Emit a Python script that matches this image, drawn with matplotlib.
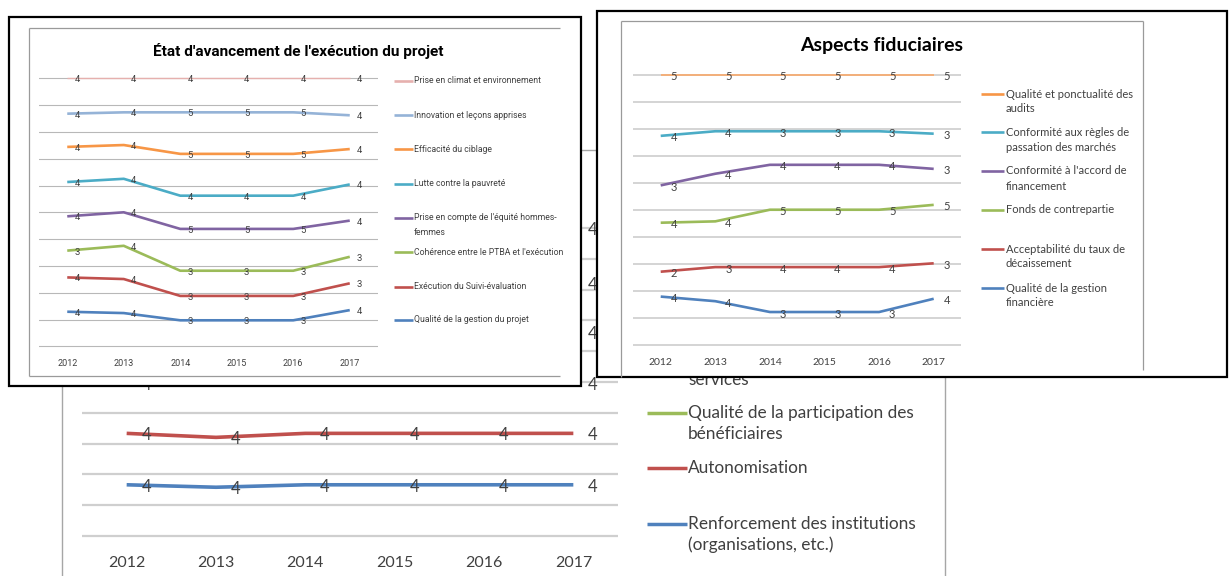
import matplotlib
matplotlib.use("Agg")
import matplotlib.pyplot as plt
from matplotlib import font_manager as fm
from matplotlib.patches import Rectangle
from matplotlib.lines import Line2D

# ---------------------------------------------------------------- data
YEARS = ["2012", "2013", "2014", "2015", "2016", "2017"]

# État d'avancement de l'exécution du projet (stacked panel levels + ratings)
PROJ_NAMES = [
    "Prise en climat et environnement",
    "Innovation et leçons apprises",
    "Efficacité du ciblage",
    "Lutte contre la pauvreté",
    "Prise en compte de l'équité hommes-\nfemmes",
    "Cohérence entre le PTBA et l'exécution",
    "Exécution du Suivi-évaluation",
    "Qualité de la gestion du projet",
]
PROJ_COLORS = ["#E6B0AE", "#95B3D7", "#F79646", "#4BACC6",
               "#8064A2", "#9BBB59", "#C0504D", "#4F81BD"]
PROJ_LEVELS = [
    [10.0, 10.0, 10.0, 10.0, 10.0, 10.0],
    [8.68, 8.73, 8.73, 8.73, 8.73, 8.62],
    [7.44, 7.51, 7.18, 7.18, 7.18, 7.36],
    [6.13, 6.25, 5.62, 5.62, 5.62, 6.04],
    [4.85, 5.00, 4.38, 4.38, 4.38, 4.69],
    [3.57, 3.75, 2.82, 2.82, 2.82, 3.34],
    [2.57, 2.51, 1.88, 1.88, 1.88, 2.35],
    [1.29, 1.24, 0.97, 0.97, 0.97, 1.35],
]
PROJ_RATINGS = [
    [4, 4, 4, 4, 4, 4],
    [4, 4, 5, 5, 5, 4],
    [4, 4, 5, 5, 5, 4],
    [4, 4, 4, 4, 4, 4],
    [4, 4, 5, 5, 5, 4],
    [3, 4, 3, 3, 3, 3],
    [4, 4, 3, 3, 3, 3],
    [4, 4, 3, 3, 3, 4],
]

# Aspects fiduciaires
FIDU_NAMES = [
    "Qualité et ponctualité des\naudits",
    "Conformité aux règles de\npassation des marchés",
    "Conformité à l'accord de\nfinancement",
    "Fonds de contrepartie",
    "Acceptabilité du taux de\ndécaissement",
    "Qualité de la gestion\nfinancière",
]
FIDU_COLORS = ["#F9A96B", "#4BACC6", "#8064A2", "#9BBB59", "#C0504D", "#4F81BD"]
FIDU_LEVELS = [
    [10.0, 10.0, 10.0, 10.0, 10.0, 10.0],
    [7.74, 7.91, 7.91, 7.91, 7.91, 7.82],
    [5.91, 6.34, 6.67, 6.67, 6.67, 6.52],
    [4.53, 4.58, 5.01, 5.01, 5.01, 5.19],
    [2.72, 2.89, 2.89, 2.89, 2.89, 3.03],
    [1.80, 1.63, 1.23, 1.23, 1.23, 1.72],
]
FIDU_RATINGS = [
    [5, 5, 5, 5, 5, 5],
    [4, 4, 3, 3, 3, 3],
    [3, 4, 4, 4, 4, 3],
    [4, 4, 5, 5, 5, 5],
    [2, 3, 4, 4, 4, 3],
    [4, 4, 3, 3, 3, 4],
]

# Impact chart underneath (upper series mostly covered by the two panels)
IMPACT_COLORS = ["#F79646", "#8064A2", "#4BACC6", "#9BBB59", "#C0504D", "#4F81BD"]
IMPACT_LEVELS = [
    [10.0, 10.0, 10.0, 10.0, 10.0, 10.0],
    [8.20, 8.20, 8.20, 8.20, 8.20, 8.20],
    [6.63, 6.63, 6.63, 6.63, 6.63, 6.63],
    [4.97, 4.97, 4.97, 4.97, 4.97, 4.97],
    [3.33, 3.20, 3.33, 3.33, 3.33, 3.33],
    [1.66, 1.58, 1.66, 1.66, 1.66, 1.66],
]
IMPACT_RATINGS = [[4] * 6 for _ in range(6)]
# which year labels are written for each impact series
IMPACT_LABELLED = [[5], [5], [5], [0, 5], list(range(6)), list(range(6))]
IMPACT_LEGEND = [
    ("services", None),
    ("Qualité de la participation des\nbénéficiaires", "#9BBB59"),
    ("Autonomisation", "#C0504D"),
    ("Renforcement des institutions\n(organisations, etc.)", "#4F81BD"),
]

TITLE_PROJ = "État d'avancement de l'exécution du projet"
TITLE_FIDU = "Aspects fiduciaires"

# ---------------------------------------------------------------- fonts
_avail = {f.name for f in fm.fontManager.ttflist}
NARROW = next((f for f in ["Liberation Sans Narrow", "Roboto", "Lato"] if f in _avail),
              "DejaVu Sans")
BODY = "Lato" if "Lato" in _avail else "Liberation Sans"

# ---------------------------------------------------------------- figure
W, H = 1229, 576
fig = plt.figure(figsize=(W / 100, H / 100), dpi=100)
fig.patch.set_facecolor("white")


def fx(x):
    return x / W


def fy(y):
    return 1 - y / H


def hline(x0, x1, y, color, lw, z):
    fig.add_artist(Line2D([fx(x0), fx(x1)], [fy(y), fy(y)], transform=fig.transFigure,
                          color=color, lw=lw, zorder=z, solid_capstyle="butt"))


def vline(x, y0, y1, color, lw, z):
    fig.add_artist(Line2D([fx(x), fx(x)], [fy(y0), fy(y1)], transform=fig.transFigure,
                          color=color, lw=lw, zorder=z, solid_capstyle="butt"))


def box(x0, y0, x1, y1, z):
    fig.add_artist(Rectangle((fx(x0), fy(y1)), (x1 - x0) / W, (y1 - y0) / H,
                             transform=fig.transFigure, facecolor="white",
                             edgecolor="black", lw=1.6, zorder=z))


def panel_axes(x0, x1, ytop, ybot, z, grid_color, grid_lw, year_font, year_size, year_pad):
    unit = (ybot - ytop) / 10.0
    m = 0.1
    ax = fig.add_axes([fx(x0), fy(ybot + m * unit), (x1 - x0) / W,
                       (ybot - ytop + 2 * m * unit) / H], zorder=z)
    ax.set_xlim(-0.5, 5.5)
    ax.set_ylim(-m, 10 + m)
    ax.patch.set_visible(False)
    for s in ax.spines.values():
        s.set_visible(False)
    ax.set_yticks(range(11))
    ax.tick_params(axis="y", length=0, labelleft=False)
    ax.yaxis.grid(True, color=grid_color, lw=grid_lw)
    ax.set_axisbelow(True)
    ax.set_xticks(range(len(YEARS)))
    ax.set_xticklabels(YEARS, family=year_font, fontsize=year_size, color="#404040")
    ax.tick_params(axis="x", length=0, pad=year_pad + m * unit * 0.72)
    return ax


def draw_series(ax, levels, ratings, colors, widths, font, size, dx, dy, labelled=None):
    for s, (lv, rt, c, w) in enumerate(zip(levels, ratings, colors, widths)):
        ax.plot(range(len(lv)), lv, color=c, lw=w, solid_joinstyle="round",
                solid_capstyle="butt", clip_on=False, zorder=2)
        idx = range(len(lv)) if labelled is None else labelled[s]
        for i in idx:
            ax.annotate(str(rt[i]), (i, lv[i]), xytext=(dx, -dy), textcoords="offset pixels",
                        ha="center", va="center", family=font, fontsize=size,
                        color="#404040", annotation_clip=False, zorder=3)


def legend(entries, x_line0, x_line1, x_text, ys, gap, font, size, lw, z):
    for (label, color), y in zip(entries, ys):
        if color is not None:
            hline(x_line0, x_line1, y, color, lw, z)
        for k, line in enumerate(label.split("\n")):
            fig.text(fx(x_text), fy(y + k * gap), line, ha="left", va="center",
                     family=font, fontsize=size, color="#404040", zorder=z)


# ---------------------------------------------------------------- impact chart (back)
Z0 = 1
hline(62, 945, 149.5, "#A6A6A6", 1.0, Z0)
vline(62, 149.5, 576, "#A6A6A6", 1.0, Z0)
vline(945, 149.5, 576, "#A6A6A6", 1.0, Z0)
ax_imp = panel_axes(82, 618, 228.0, 535.9, Z0, "#CFCFCF", 1.6, BODY, 11.5, 10.0)
draw_series(ax_imp, IMPACT_LEVELS, IMPACT_RATINGS, IMPACT_COLORS, [2.6] * 6,
            BODY, 12, 19.5, 2, labelled=IMPACT_LABELLED)
legend(IMPACT_LEGEND, 647, 687, 688, [380, 413.3, 468.3, 524], 20.7, BODY, 12.4, 2.5, Z0)

# ---------------------------------------------------------------- project execution (box 1)
Z1 = 3
box(9, 17, 580.5, 386, Z1)
vline(29, 28, 376, "#9A9A9A", 0.9, Z1 + 0.1)
hline(29, 560, 28, "#9A9A9A", 0.9, Z1 + 0.1)
hline(29, 560, 376, "#9A9A9A", 0.9, Z1 + 0.1)
ax_p = panel_axes(39, 378, 78.3, 346.3, Z1 + 1, "#B8B8B8", 0.8, NARROW, 6.5, 5.5)
draw_series(ax_p, PROJ_LEVELS, PROJ_RATINGS, PROJ_COLORS, [1.0] + [1.9] * 7,
            NARROW, 6.8, 10, 1.5)
fig.text(fx(298), fy(51), TITLE_PROJ, ha="center", va="center", family=NARROW,
         fontweight="bold", fontsize=11.1, color="black", zorder=Z1 + 1)
legend(list(zip(PROJ_NAMES, PROJ_COLORS)), 394, 413, 413.5,
       [80.7, 115.3, 149.3, 184, 217.7, 252.3, 286.7, 320], 14.6, NARROW, 6.2, 1.9, Z1 + 1)

# ---------------------------------------------------------------- fiduciary aspects (box 2)
Z2 = 6
box(597, 10.7, 1227, 377, Z2)
vline(620.5, 20.7, 377, "#9A9A9A", 0.9, Z2 + 0.1)
hline(620.5, 1143, 20.7, "#9A9A9A", 0.9, Z2 + 0.1)
vline(1143, 20.7, 370, "#9A9A9A", 0.9, Z2 + 0.1)
ax_f = panel_axes(633.4, 961, 74.7, 345.3, Z2 + 1, "#D4D4D4", 1.4, BODY, 7.5, 5.5)
draw_series(ax_f, FIDU_LEVELS, FIDU_RATINGS, FIDU_COLORS, [1.2] + [1.9] * 5,
            BODY, 8, 13, 2)
fig.text(fx(882), fy(45), TITLE_FIDU, ha="center", va="center", family=BODY,
         fontweight="bold", fontsize=14, color="black", zorder=Z2 + 1)
legend(list(zip(FIDU_NAMES, ["#F79646"] + FIDU_COLORS[1:])), 981, 1004, 1006,
       [94, 132.3, 171, 210, 249, 288], 15.0, BODY, 8.0, 1.9, Z2 + 1)

fig.savefig("out.png", dpi=100, facecolor="white")
